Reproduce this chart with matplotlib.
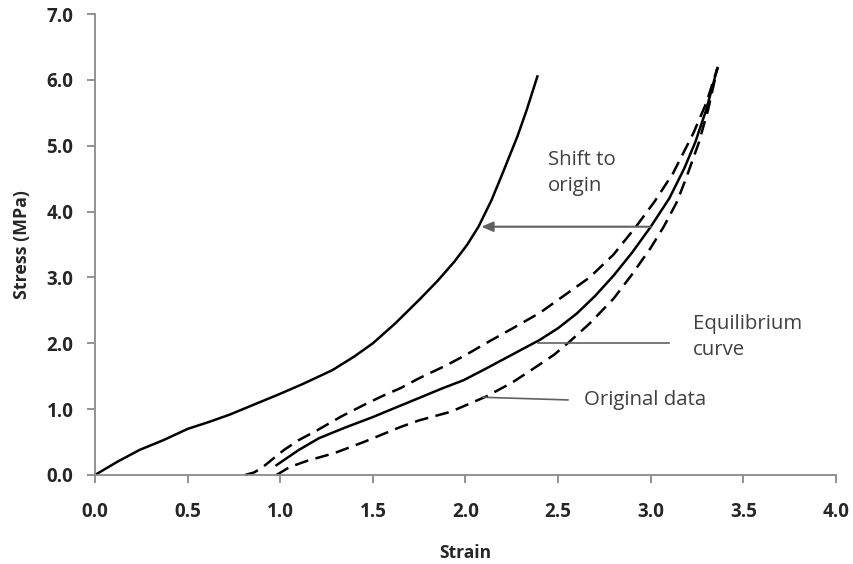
import matplotlib
matplotlib.use("Agg")
import matplotlib.pyplot as plt

# ---- data ----
shift_x = [0.00, 0.12, 0.24, 0.37, 0.50, 0.62, 0.73, 0.85, 0.98, 1.12, 1.28, 1.40,
           1.50, 1.62, 1.75, 1.85, 1.94, 2.01, 2.07, 2.14, 2.20, 2.28, 2.33, 2.39]
shift_y = [0.00, 0.20, 0.38, 0.53, 0.70, 0.81, 0.92, 1.06, 1.21, 1.38, 1.59, 1.80,
           2.00, 2.30, 2.66, 2.95, 3.24, 3.50, 3.77, 4.17, 4.58, 5.14, 5.54, 6.07]

equil_x = [0.98, 1.10, 1.21, 1.35, 1.50, 1.62, 1.75, 1.87, 1.99, 2.10, 2.20, 2.30,
           2.40, 2.50, 2.60, 2.70, 2.80, 2.90, 3.00, 3.10, 3.18, 3.24, 3.30, 3.36]
equil_y = [0.15, 0.38, 0.56, 0.72, 0.88, 1.02, 1.17, 1.31, 1.44, 1.60, 1.75, 1.90,
           2.05, 2.23, 2.45, 2.72, 3.03, 3.38, 3.77, 4.20, 4.65, 5.05, 5.55, 6.18]

upper_x = [0.81, 0.86, 0.91, 1.02, 1.10, 1.20, 1.33, 1.47, 1.56, 1.65, 1.75, 1.90,
           2.00, 2.11, 2.25, 2.40, 2.52, 2.67, 2.80, 2.92, 3.02, 3.12, 3.23, 3.30, 3.36]
upper_y = [0.00, 0.04, 0.13, 0.38, 0.53, 0.68, 0.89, 1.09, 1.21, 1.32, 1.47, 1.67,
           1.82, 2.00, 2.22, 2.46, 2.70, 3.00, 3.35, 3.77, 4.15, 4.58, 5.19, 5.65, 6.18]

lower_x = [0.98, 1.05, 1.15, 1.29, 1.45, 1.65, 1.75, 1.92, 2.11, 2.25, 2.38, 2.48,
           2.56, 2.67, 2.80, 2.90, 3.00, 3.07, 3.14, 3.19, 3.26, 3.31, 3.36]
lower_y = [0.00, 0.12, 0.22, 0.33, 0.50, 0.73, 0.83, 0.96, 1.19, 1.40, 1.64, 1.83,
           2.02, 2.30, 2.68, 3.05, 3.45, 3.77, 4.14, 4.50, 5.05, 5.55, 6.18]

x_ticks = [0.0, 0.5, 1.0, 1.5, 2.0, 2.5, 3.0, 3.5, 4.0]
y_ticks = [0.0, 1.0, 2.0, 3.0, 4.0, 5.0, 6.0, 7.0]
x_label = "Strain"
y_label = "Stress (MPa)"
note_shift = "Shift to\norigin"
note_equil = "Equilibrium\ncurve"
note_orig = "Original data"

plt.rcParams['font.family'] = ['Open Sans', 'DejaVu Sans']

fig = plt.figure(figsize=(8.54, 5.64), dpi=100)
ax = fig.add_axes([95/854, 1-475/564, (836-95)/854, (475-14)/564])

lw = 1.8
dash = (0, (5.5, 3.0))
ax.plot(shift_x, shift_y, color='black', lw=lw, solid_capstyle='butt')
ax.plot(equil_x, equil_y, color='black', lw=lw)
ax.plot(upper_x, upper_y, color='black', lw=lw, linestyle=dash, clip_on=False)
ax.plot(lower_x, lower_y, color='black', lw=lw, linestyle=dash, clip_on=False)

ax.set_xlim(0, 4.0)
ax.set_ylim(0, 7.0)
ax.set_xticks(x_ticks)
ax.set_yticks(y_ticks)
ax.set_xticklabels([f"{v:.1f}" for v in x_ticks])
ax.set_yticklabels([f"{v:.1f}" for v in y_ticks])

spine_c = '#8a8a8a'
for s in ['top', 'right']:
    ax.spines[s].set_visible(False)
for s in ['left', 'bottom']:
    ax.spines[s].set_color(spine_c)
    ax.spines[s].set_linewidth(1.3)
ax.tick_params(axis='both', direction='out', length=5.5, width=1.3, color=spine_c,
               labelsize=13.5, labelcolor='#262626')
ax.tick_params(axis='x', pad=14)
ax.tick_params(axis='y', pad=10)
for lab in ax.get_xticklabels() + ax.get_yticklabels():
    lab.set_fontweight('bold')

ax.set_xlabel(x_label, fontsize=12.5, fontweight='bold', color='#262626', va='center')
ax.xaxis.set_label_coords(0.5, -0.169)
ax.set_ylabel(y_label, fontsize=12.8, fontweight='bold', color='#262626', va='center')
ax.yaxis.set_label_coords(-0.0985, 0.5)

note_c = '#404040'
line_c = '#606060'
ax.annotate('', xy=(2.085, 3.77), xytext=(3.0, 3.77),
            arrowprops=dict(arrowstyle='-|>,head_length=0.7,head_width=0.3',
                            color=line_c, lw=1.5, shrinkA=0, shrinkB=0))
ax.text(2.445, 4.58, note_shift, fontsize=14.7, color=note_c, va='center', ha='left',
        linespacing=1.4)

ax.plot([2.39, 3.10], [2.00, 2.00], color=line_c, lw=1.2)
ax.text(3.23, 2.09, note_equil, fontsize=14.7, color=note_c, va='center', ha='left',
        linespacing=1.4)

ax.plot([2.095, 2.553], [1.18, 1.14], color=line_c, lw=1.2)
ax.text(2.64, 1.14, note_orig, fontsize=14.7, color=note_c, va='center', ha='left')

fig.savefig('out.png', dpi=100)
